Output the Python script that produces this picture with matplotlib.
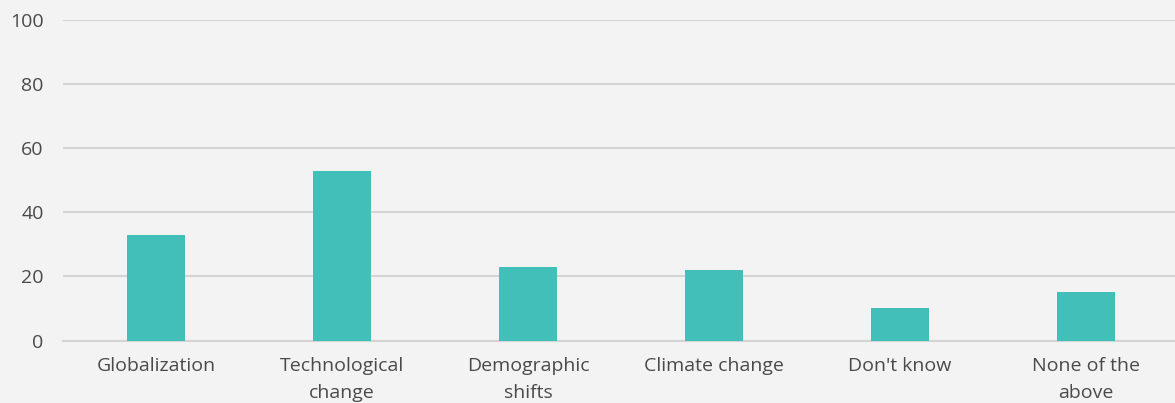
import matplotlib
matplotlib.use("Agg")
import matplotlib.pyplot as plt
import numpy as np

# data
categories = ["Globalization", "Technological\nchange", "Demographic\nshifts",
              "Climate change", "Don't know", "None of the\nabove"]
values = [33, 53, 23, 22, 10, 15]
yticks = [0, 20, 40, 60, 80, 100]

bg = "#f3f3f3"
bar_color = "#42bfb9"
grid_color = "#d4d4d4"
text_color = "#4a4a4a"

plt.rcParams['font.family'] = ['Open Sans', 'DejaVu Sans']

fig = plt.figure(figsize=(11.75, 4.03), dpi=100, facecolor=bg)
ax = fig.add_axes([63 / 1175, 62.5 / 403, 1116 / 1175, 320.5 / 403])
ax.set_facecolor(bg)

x = np.arange(len(categories))
ax.bar(x, values, width=0.31, color=bar_color, zorder=3)

ax.set_xlim(-0.5, len(categories) - 0.5)
ax.set_ylim(0, 100)
ax.set_yticks(yticks)
ax.set_yticklabels([str(t) for t in yticks], fontsize=14, color=text_color)
ax.set_xticks(x)
ax.set_xticklabels(categories, fontsize=14, color=text_color)
for lbl in ax.get_xticklabels():
    lbl.set_linespacing(1.6)

# grid
ax.yaxis.grid(True, color=grid_color, linewidth=1.5, zorder=0)
ax.tick_params(axis='y', length=0, pad=14)
ax.tick_params(axis='x', length=0, pad=12)
for side in ['top', 'right', 'left']:
    ax.spines[side].set_visible(False)
ax.spines['bottom'].set_color(grid_color)
ax.spines['bottom'].set_linewidth(1.5)

fig.savefig("out.png", dpi=100, facecolor=bg)
